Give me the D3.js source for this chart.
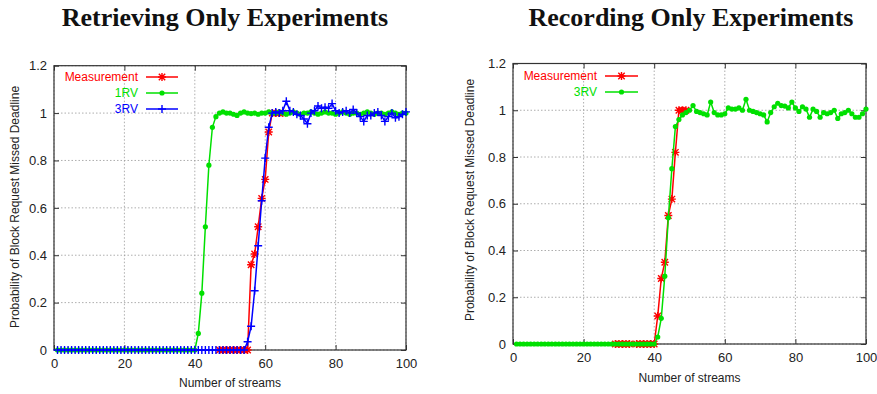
<!DOCTYPE html>
<html>
<head>
<meta charset="utf-8" />
<title>Missed deadline experiments</title>
<script src="https://d3js.org/d3.v7.min.js"></script>
<style>
  body { margin: 0; background: #fff; }
  svg text { font-family: "Liberation Sans", Arial, sans-serif; }
  .title { font-family: "Liberation Serif", "Times New Roman", serif !important; font-weight: bold; font-size: 26px; fill: #111; }
  .tick text { font-size: 13px; fill: #222; }
  .lab { font-size: 12px; fill: #222; }
  .grid line { stroke: #999; stroke-dasharray: 1.5,2; stroke-width: 0.8; }
</style>
</head>
<body>
<div id="chart"></div>
<script>
// ---- data ----
var xTicks = [0, 20, 40, 60, 80, 100];
var yTicks = [0, 0.2, 0.4, 0.6, 0.8, 1, 1.2];

// left panel: Retrieving Only
var retMeasX = [47, 48, 49, 50, 51, 52, 53, 54, 55, 56, 57, 58, 59, 60, 61, 62, 63, 64, 65];
var retMeasY = [0, 0, 0, 0, 0, 0, 0, 0, 0, 0.36, 0.405, 0.52, 0.64, 0.72, 0.92, 1.0, 1.0, 1.0, 1.0];

// streams 1..100
var ret1RV = [
  0, 0, 0, 0, 0, 0, 0, 0, 0, 0,
  0, 0, 0, 0, 0, 0, 0, 0, 0, 0,
  0, 0, 0, 0, 0, 0, 0, 0, 0, 0,
  0, 0, 0, 0, 0, 0, 0, 0, 0, 0,
  0.07, 0.24, 0.52, 0.78, 0.94, 0.985, 1.0, 1.005, 1.0, 1.0,
  0.995, 0.99, 1.0, 1.005, 1.0, 0.998, 1.0, 0.995, 1.0, 1.0,
  1.005, 1.0, 1.0, 1.005, 1.0, 0.995, 1.0, 1.005, 1.0, 0.995,
  1.0, 1.0, 1.005, 1.0, 0.995, 1.0, 1.005, 1.0, 1.0, 0.995,
  1.0, 1.005, 1.0, 0.995, 1.0, 1.0, 0.995, 1.0, 1.005, 1.0,
  0.995, 1.0, 1.0, 0.995, 1.0, 1.005, 1.0, 0.995, 1.0, 1.0
];
var ret3RV = [
  0, 0, 0, 0, 0, 0, 0, 0, 0, 0,
  0, 0, 0, 0, 0, 0, 0, 0, 0, 0,
  0, 0, 0, 0, 0, 0, 0, 0, 0, 0,
  0, 0, 0, 0, 0, 0, 0, 0, 0, 0,
  0, 0, 0, 0, 0, 0, 0, 0, 0, 0,
  0, 0, 0, 0, 0.035, 0.10, 0.25, 0.44, 0.63, 0.81,
  0.94, 1.0, 1.005, 1.0, 1.01, 1.05, 1.01, 1.005, 0.995, 0.99,
  0.975, 0.955, 1.0, 1.01, 1.03, 1.02, 1.025, 1.02, 1.04, 1.01,
  1.0, 1.005, 1.01, 1.0, 1.015, 1.0, 0.985, 0.965, 0.99, 0.99,
  1.0, 1.005, 0.99, 0.965, 0.985, 1.0, 0.98, 0.985, 0.995, 1.005
];

// right panel: Recording Only
var recMeasX = [29, 30, 31, 32, 33, 35, 36, 37, 38, 39, 40, 41, 42, 43, 44, 45, 46, 47, 48, 49];
var recMeasY = [0, 0, 0, 0, 0, 0, 0, 0, 0, 0, 0, 0.12, 0.28, 0.35, 0.55, 0.62, 0.82, 1.0, 1.0, 1.0];

var rec3RV = [
  0, 0, 0, 0, 0, 0, 0, 0, 0, 0,
  0, 0, 0, 0, 0, 0, 0, 0, 0, 0,
  0, 0, 0, 0, 0, 0, 0, 0, 0, 0,
  0, 0, 0, 0, 0, 0, 0, 0, 0, 0,
  0.03, 0.11, 0.29, 0.54, 0.75, 0.93, 0.96, 0.98, 0.99, 1.0,
  1.02, 0.995, 0.99, 0.985, 0.98, 1.035, 0.99, 0.98, 0.98, 0.985,
  1.01, 1.005, 1.005, 1.01, 1.0, 1.047, 1.0, 0.995, 0.99, 0.985,
  0.98, 0.95, 0.99, 1.015, 1.03, 1.02, 1.018, 1.01, 1.035, 1.01,
  0.995, 1.015, 1.005, 0.97, 1.005, 0.995, 0.97, 0.99, 0.985, 0.99,
  1.0, 0.965, 0.985, 0.99, 1.0, 0.985, 0.97, 0.97, 0.985, 1.005
];

function pairs(ys, xs) {
  return ys.map(function(v, i) { return [xs ? xs[i] : i + 1, v]; });
}

var panels = [
  {
    title: "Retrieving Only Experiments", cx: 225,
    box: { left: 54, right: 406, top: 65.7, bottom: 350 },
    series: [
      { name: "Measurement", color: "#ff0000", mark: "star", data: pairs(retMeasY, retMeasX) },
      { name: "1RV", color: "#00e000", mark: "dot", data: pairs(ret1RV) },
      { name: "3RV", color: "#0000ff", mark: "plus", data: pairs(ret3RV) }
    ],
    legend: { textX: 138, x1: 146, x2: 178, y: 77, dy: 16 },
    ylabY: 207, ylabX: 15, xlabY: 387
  },
  {
    title: "Recording Only Experiments", cx: 691,
    box: { left: 513, right: 866, top: 63.5, bottom: 344 },
    series: [
      { name: "Measurement", color: "#ff0000", mark: "star", data: pairs(recMeasY, recMeasX) },
      { name: "3RV", color: "#00e000", mark: "dot", data: pairs(rec3RV) }
    ],
    legend: { textX: 597, x1: 605, x2: 638, y: 76, dy: 16 },
    ylabY: 200, ylabX: 470, xlabY: 382
  }
];

var svg = d3.select("#chart").append("svg")
  .attr("width", 877)
  .attr("height", 394);

function drawMark(g, type, color, cx, cy) {
  if (type == "dot") {
    g.append("circle").attr("cx", cx).attr("cy", cy).attr("r", 2.6).style("fill", color);
  } else {
    var s = 4;
    var p = "M" + (cx - s) + "," + cy + "H" + (cx + s) + "M" + cx + "," + (cy - s) + "V" + (cy + s);
    if (type == "star") {
      var d = 3.2;
      p += "M" + (cx - d) + "," + (cy - d) + "L" + (cx + d) + "," + (cy + d) +
           "M" + (cx - d) + "," + (cy + d) + "L" + (cx + d) + "," + (cy - d);
    }
    g.append("path").attr("d", p).style("stroke", color).style("stroke-width", 1.4).style("fill", "none");
  }
}

panels.forEach(function(P) {
  var b = P.box;
  var x = d3.scaleLinear().domain([0, 100]).range([b.left, b.right]);
  var y = d3.scaleLinear().domain([0, 1.2]).range([b.bottom, b.top]);
  var g = svg.append("g");

  // grid
  var grid = g.append("g").attr("class", "grid");
  grid.selectAll(".gx").data(xTicks).enter().append("line")
    .attr("x1", function(d) { return x(d); }).attr("x2", function(d) { return x(d); })
    .attr("y1", b.top).attr("y2", b.bottom);
  grid.selectAll(".gy").data(yTicks).enter().append("line")
    .attr("y1", function(d) { return y(d); }).attr("y2", function(d) { return y(d); })
    .attr("x1", b.left).attr("x2", b.right);

  // axes (ticks inward, mirrored)
  var fmt = function(d) { return String(d); };
  var axB = g.append("g").attr("transform", "translate(0," + b.bottom + ")")
    .call(d3.axisBottom(x).tickValues(xTicks).tickFormat(fmt).tickSizeInner(-5).tickSizeOuter(0).tickPadding(9));
  var axL = g.append("g").attr("transform", "translate(" + b.left + ",0)")
    .call(d3.axisLeft(y).tickValues(yTicks).tickFormat(fmt).tickSizeInner(-5).tickSizeOuter(0).tickPadding(7));
  var axT = g.append("g").attr("transform", "translate(0," + b.top + ")")
    .call(d3.axisTop(x).tickValues(xTicks).tickFormat("").tickSizeInner(-5).tickSizeOuter(0));
  var axR = g.append("g").attr("transform", "translate(" + b.right + ",0)")
    .call(d3.axisRight(y).tickValues(yTicks).tickFormat("").tickSizeInner(-5).tickSizeOuter(0));
  [axB, axL, axT, axR].forEach(function(a) {
    a.select(".domain").remove();
    a.selectAll(".tick line").style("stroke", "#333");
    a.selectAll("text").style("font-family", "Liberation Sans, Arial, sans-serif").style("font-size", "13px").style("fill", "#222");
  });

  // frame
  g.append("rect")
    .attr("x", b.left).attr("y", b.top)
    .attr("width", b.right - b.left).attr("height", b.bottom - b.top)
    .style("fill", "none").style("stroke", "#333").style("stroke-width", 1.2);

  // series
  var line = d3.line().x(function(d) { return x(d[0]); }).y(function(d) { return y(d[1]); });
  P.series.forEach(function(s) {
    g.append("path").datum(s.data).attr("d", line)
      .style("fill", "none").style("stroke", s.color).style("stroke-width", 1.5);
    var mg = g.append("g");
    s.data.forEach(function(d) { drawMark(mg, s.mark, s.color, x(d[0]), y(d[1])); });
  });

  // legend
  var L = P.legend;
  P.series.forEach(function(s, i) {
    var ly = L.y + i * L.dy;
    g.append("text").attr("x", L.textX).attr("y", ly).attr("dy", "0.35em")
      .attr("text-anchor", "end").attr("class", "lab").style("fill", s.color).style("font-size", "12px")
      .text(s.name);
    g.append("line").attr("x1", L.x1).attr("x2", L.x2).attr("y1", ly).attr("y2", ly)
      .style("stroke", s.color).style("stroke-width", 1.5);
    drawMark(g, s.mark, s.color, (L.x1 + L.x2) / 2, ly);
  });

  // labels
  g.append("text").attr("class", "title").attr("x", P.cx).attr("y", 26)
    .attr("text-anchor", "middle").text(P.title);
  g.append("text").attr("class", "lab")
    .attr("transform", "translate(" + P.ylabX + "," + P.ylabY + ") rotate(-90)")
    .attr("dy", "0.35em").attr("text-anchor", "middle")
    .text("Probability of Block Request Missed Deadline");
  g.append("text").attr("class", "lab")
    .attr("x", (b.left + b.right) / 2).attr("y", P.xlabY)
    .attr("text-anchor", "middle").text("Number of streams");
});
</script>
</body>
</html>
